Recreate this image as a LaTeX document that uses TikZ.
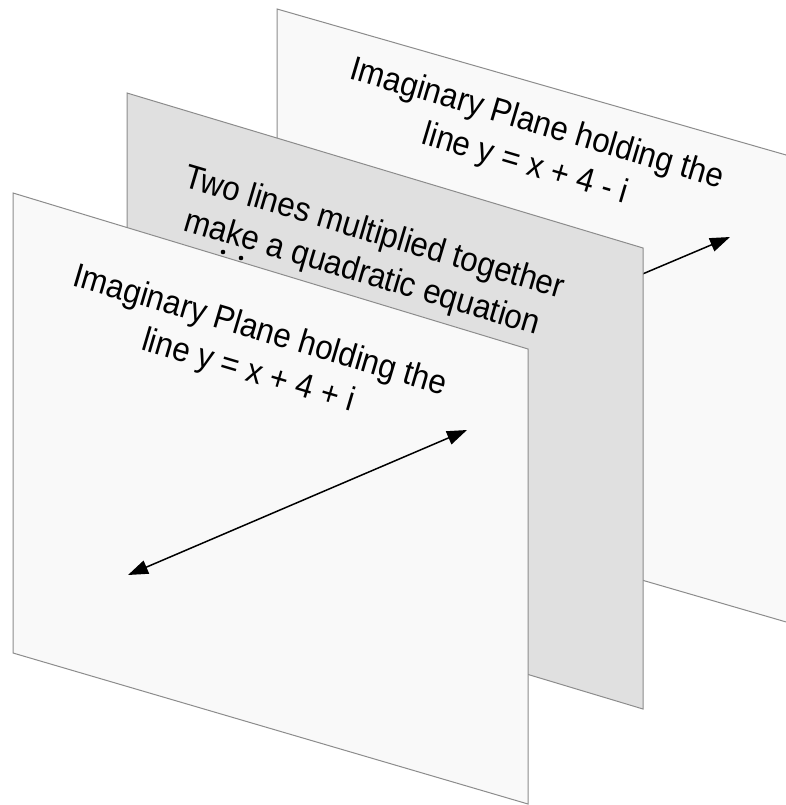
\documentclass[tikz,border=0pt]{standalone}
\usepackage{fontspec}
\newfontfamily\lab[FakeStretch=0.92]{Liberation Sans}
\usetikzlibrary{arrows.meta}
\definecolor{planefill}{HTML}{F9F9F9}
\definecolor{midfill}{HTML}{E0E0E0}
\definecolor{edgegrey}{HTML}{8C8C8C}
\tikzset{
  plane/.style={draw=edgegrey, line width=1pt, fill=planefill},
  midplane/.style={draw=edgegrey, line width=1pt, fill=midfill},
  label/.style={align=center, rotate=-16.5, inner sep=0pt,
    font=\lab\fontsize{34}{42}\selectfont},
  conn/.style={line width=1.5pt, draw=black,
    -{Triangle[length=20pt,width=14pt]}},
  biconn/.style={line width=1.5pt, draw=black,
    {Triangle[length=20pt,width=14pt]}-{Triangle[length=20pt,width=14pt]}}
}
\begin{document}
\begin{tikzpicture}[x=1pt,y=-1pt]
\useasboundingbox (0,0) rectangle (786,805);
\clip (0,0) rectangle (786,805);
\fill[white] (0,0) rectangle (786,805);
% back plane
\draw[plane] (277,9) -- (800,159) -- (800,626) -- (277,474) -- cycle;
\coordinate (bs) at (600,292);
\coordinate (be) at (730,237);
\draw[conn] (bs) -- (be);
\node[label] (backtext) at (531,145) {Imaginary Plane holding the\\line y = x + 4 - i};
% middle plane
\draw[midplane] (127,93) -- (643,248) -- (643,709) -- (127,554) -- cycle;
\node[label] (midtext) at (368,254) {Two lines multiplied together\\make a quadratic equation};
\fill[black] (223,252) circle (2.3);
\fill[black] (241,258) circle (2.3);
% front plane
\draw[plane] (13,193) -- (528,349) -- (528,804) -- (13,653) -- cycle;
\node[label] (fronttext) at (254,352) {Imaginary Plane holding the\\line y = x + 4 + i};
\coordinate (fa) at (128,575);
\coordinate (fb) at (467,430);
\draw[biconn] (fa) -- (fb);
\end{tikzpicture}
\end{document}
